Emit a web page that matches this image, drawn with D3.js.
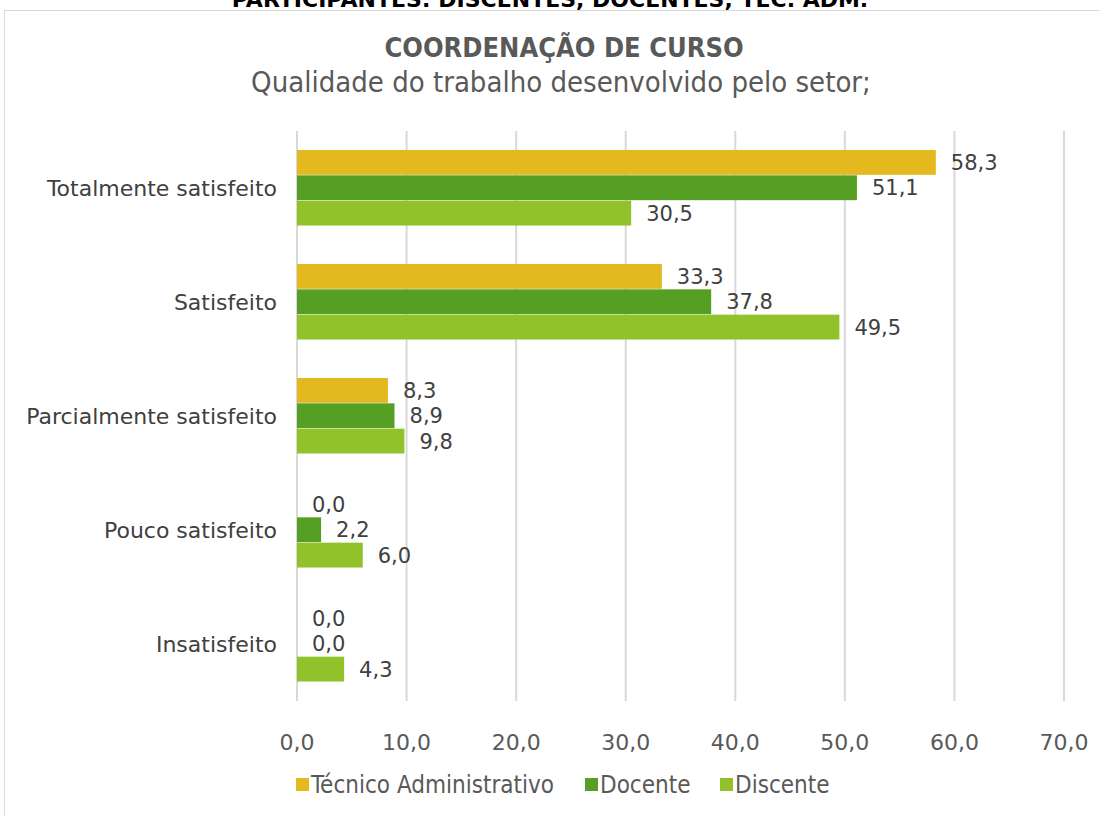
<!DOCTYPE html>
<html>
<head>
<meta charset="utf-8">
<script src="https://cdn.jsdelivr.net/npm/d3@7"></script>
<style>
  body { margin: 0; background: #fff; }
  text { font-family: "DejaVu Sans", sans-serif; }
</style>
</head>
<body>
<div id="chart"></div>
<script>
var categories = ["Totalmente satisfeito", "Satisfeito", "Parcialmente satisfeito", "Pouco satisfeito", "Insatisfeito"];
var seriesNames = ["Técnico Administrativo", "Docente", "Discente"];
var tecnico = [58.3, 33.3, 8.3, 0.0, 0.0];
var docente = [51.1, 37.8, 8.9, 2.2, 0.0];
var discente = [30.5, 49.5, 9.8, 6.0, 4.3];
var xTicks = [0, 10, 20, 30, 40, 50, 60, 70];
var colors = ["#e4b81f", "#55a024", "#92c22a"];

var seriesValues = [tecnico, docente, discente];
var fmt = function (v) { return v.toFixed(1).replace(".", ","); };

var svg = d3.select("#chart").append("svg")
    .attr("width", 1100)
    .attr("height", 816);

// chart frame
svg.append("rect")
    .attr("x", 4.5).attr("y", 10.5)
    .attr("width", 1110).attr("height", 820)
    .attr("fill", "none")
    .attr("stroke", "#d9d9d9");

// heading above the frame, cut off by the top edge as in the original
svg.append("text")
    .attr("x", 550).attr("y", 7)
    .attr("text-anchor", "middle")
    .attr("font-weight", "bold")
    .attr("font-size", "22px")
    .attr("fill", "#000")
    .text("PARTICIPANTES: DISCENTES, DOCENTES, TEC. ADM.");

svg.append("text")
    .attr("x", 564).attr("y", 57)
    .attr("text-anchor", "middle")
    .attr("font-weight", "bold")
    .attr("font-size", "27px")
    .attr("font-stretch", "condensed")
    .attr("fill", "#595959")
    .text("COORDENAÇÃO DE CURSO");

svg.append("text")
    .attr("x", 561).attr("y", 92)
    .attr("text-anchor", "middle")
    .attr("font-size", "29px")
    .attr("font-stretch", "condensed")
    .attr("fill", "#595959")
    .text("Qualidade do trabalho desenvolvido pelo setor;");

var x = d3.scaleLinear().domain([0, 70]).range([297, 1064]);
var y = d3.scaleBand().domain(categories).range([131, 701]).paddingInner(0.333).paddingOuter(0.1665);
var ySub = d3.scaleBand().domain(d3.range(3)).range([0, y.bandwidth()]);

// gridlines
svg.append("g")
    .selectAll("line")
    .data(xTicks)
    .enter()
    .append("line")
    .attr("x1", d => x(d)).attr("x2", d => x(d))
    .attr("y1", 131).attr("y2", 701)
    .attr("stroke", "#d9d9d9")
    .attr("stroke-width", 2);

// x tick labels
svg.append("g")
    .selectAll("text")
    .data(xTicks)
    .enter()
    .append("text")
    .attr("x", d => x(d))
    .attr("y", 742)
    .attr("dy", "0.35em")
    .attr("text-anchor", "middle")
    .attr("font-size", "22px")
    .attr("fill", "#595959")
    .text(d => fmt(d));

// category labels
svg.append("g")
    .selectAll("text")
    .data(categories)
    .enter()
    .append("text")
    .attr("x", 277)
    .attr("y", d => y(d) + y.bandwidth() / 2)
    .attr("dy", "0.35em")
    .attr("text-anchor", "end")
    .attr("font-size", "22px")
    .attr("fill", "#404040")
    .text(d => d);

var rows = [];
categories.forEach((c, i) => {
    seriesValues.forEach((vals, s) => {
        rows.push({ cat: c, s: s, v: vals[i] });
    });
});

svg.append("g")
    .selectAll("rect")
    .data(rows.filter(d => d.v > 0))
    .enter()
    .append("rect")
    .attr("x", x(0))
    .attr("y", d => y(d.cat) + ySub(d.s))
    .attr("width", d => x(d.v) - x(0))
    .attr("height", ySub.bandwidth() - 0.5)
    .attr("fill", d => colors[d.s]);

svg.append("g")
    .selectAll("text")
    .data(rows)
    .enter()
    .append("text")
    .attr("x", d => x(d.v) + 15)
    .attr("y", d => y(d.cat) + ySub(d.s) + ySub.bandwidth() / 2)
    .attr("dy", "0.35em")
    .attr("font-size", "21px")
    .attr("fill", "#404040")
    .text(d => fmt(d.v));

// legend
var legendX = [296, 585, 720];
var legend = svg.append("g")
    .selectAll("g")
    .data(seriesNames)
    .enter()
    .append("g")
    .attr("transform", (d, i) => "translate(" + legendX[i] + ",785)");

legend.append("rect")
    .attr("x", 0).attr("y", -7)
    .attr("width", 13).attr("height", 13)
    .attr("fill", (d, i) => colors[i]);

legend.append("text")
    .attr("x", 15)
    .attr("y", 0)
    .attr("dy", "0.35em")
    .attr("font-size", "24px")
    .attr("font-stretch", "condensed")
    .attr("fill", "#595959")
    .text(d => d);
</script>
</body>
</html>
